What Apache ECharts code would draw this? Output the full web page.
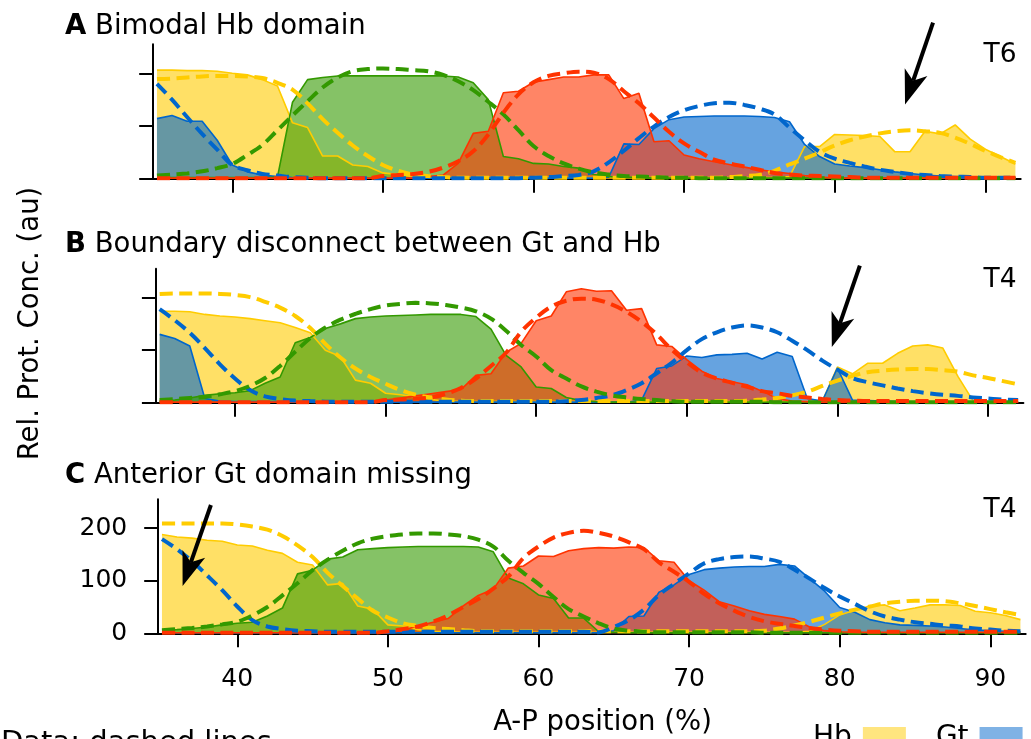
<!DOCTYPE html>
<html>
<head>
<meta charset="utf-8">
<script src="https://cdn.jsdelivr.net/npm/echarts@6/dist/echarts.min.js"></script>
<style>
  html, body { margin: 0; padding: 0; background: #ffffff; }
  #chart { width: 1031px; height: 739px; }
</style>
</head>
<body>
<div id="chart"></div>
<script>
// A-P positions (% egg length) at which concentrations are sampled
const positions = [35,36,37,38,39,40,41,42,43,44,45,46,47,48,49,50,51,52,53,54,55,56,57,58,59,60,61,62,63,64,
  65,66,67,68,69,70,71,72,73,74,75,76,77,78,79,80,81,82,83,84,85,86,87,88,89,90,91,92];

// Panel A (T6): filled domains
const hbDomainA = [206,206,205,205,204,200,197,188,176,106, 97,43,43,26,23,11,8,4,2,2, 2,2,2,2,2,2,2,2,2,2, 2,2,2,2,2,2,2,2,2,2, 2,2,4,61,61,84,83,82,80,51, 51,90,85,102,75,56,42,28];
const gtDomainA = [114,120,109,109,73,26,13,7,4,2, 1,1,1,1,1,1,1,1,1,1, 1,1,1,1,1,1,1,1,1,1, 3,66,65,95,112,117,118,119,119,119, 118,116,108,65,42,28,24,21,17,13, 10,7,5,4,3,2,2,1];
const krDomainA = [2,2,2,2,2,2,2,2,3,145, 188,192,195,195,195,195,195,195,195,195, 193,182,150,42,38,29,28,23,20,8, 4,3,2,1,1,1,1,1,1,1, 1,1,1,1,1,1,1,1,1,1, 1,1,1,1,1,1,1,1];
const kniDomainA = [1,1,1,1,1,1,1,1,1,1, 1,1,1,1,1,1,1,1,4,7, 29,86,90,163,166,183,188,193,193,197, 197,152,162,70,72,45,38,32,27,22, 17,13,10,6,3,1,1,1,1,1, 1,1,1,1,1,1,1,1];
// Panel A (T6): data profiles
const hbDataA = [189,190,192,194,195,195,194,191,182,169, 143,113,87,63,43,26,15,8,5,3, 2,2,2,2,2,2,2,2,2,2, 2,2,2,2,2,2,2,2,3,5, 7,15,27,38,50,63,73,80,86,90, 92,90,87,78,66,53,41,30];
const gtDataA = [180,150,117,85,55,26,16,9,6,3, 2,1,1,1,1,1,1,1,1,1, 1,1,1,1,1,2,3,5,7,14, 31,53,77,99,117,130,138,143,144,140, 133,122,97,73,51,38,30,23,17,13, 9,7,5,4,3,2,2,2];
const krDataA = [6,8,10,14,20,28,45,64,92,120, 147,173,192,204,208,209,208,206,204,197, 185,168,146,122,92,62,43,29,19,12, 8,5,4,3,2,2,1,1,1,1, 1,1,1,1,1,1,1,1,1,1, 1,1,1,1,1,1,1,1];
const kniDataA = [1,1,1,1,1,1,1,1,1,1, 1,1,1,1,1,5,7,9,13,21, 33,52,84,125,160,183,195,200,203,201, 189,166,143,116,89,67,51,36,29,23, 17,11,8,6,5,4,3,2,2,2, 2,2,2,2,2,2,2,2];

// Panel B (T4): filled domains
const hbDomainB = [174,174,173,168,165,163,160,156,152,143, 133,100,88,43,37,18,15,11,6,3, 2,2,2,2,2,2,2,2,2,2, 2,2,2,2,2,2,2,2,2,2, 2,2,2,2,3,68,55,75,75,94, 108,110,104,50,4,2,1,1];
const gtDomainB = [130,122,108,8,3,2,2,2,2,2, 2,1,1,1,1,1,1,1,1,1, 1,1,1,1,1,1,1,1,1,1, 1,1,5,65,70,89,86,91,92,94, 83,96,88,8,3,66,5,4,3,2, 1,1,1,1,1,1,1,1];
const krDomainB = [4,5,9,14,17,19,23,37,49,114, 124,141,150,160,163,165,166,167,168,168, 168,164,140,90,68,30,27,10,4,2, 1,1,1,1,1,1,1,1,1,1, 1,1,1,1,1,1,1,1,1,1, 1,1,1,1,1,1,1,1];
const kniDomainB = [1,1,1,1,1,1,1,1,1,1, 1,1,1,1,1,5,9,13,17,21, 25,52,55,96,113,156,165,211,217,212, 213,176,179,110,107,82,60,46,40,34, 22,8,3,2,1,1,1,1,1,1, 1,1,1,1,1,1,1,1];
// Panel B (T4): data profiles
const hbDataB = [207,208,208,208,207,205,201,192,181,165, 142,112,86,65,49,36,24,15,10,6, 4,3,3,3,3,3,3,3,3,3, 3,3,3,3,3,3,3,3,3,4, 6,9,14,21,32,42,51,58,61,63, 64,64,62,59,52,47,41,35];
const gtDataB = [178,157,133,104,73,46,24,12,7,4, 3,2,2,2,2,2,2,2,2,2, 2,2,2,2,2,2,2,3,5,9, 14,24,37,56,76,100,121,134,143,147, 143,134,118,100,80,63,47,39,33,27, 22,18,15,13,10,8,6,5];
const krDataB = [5,7,9,11,16,22,32,47,70,97, 123,143,158,169,178,185,188,190,189,186, 181,174,160,137,110,88,62,46,31,21, 14,10,7,5,3,2,2,2,2,2, 2,1,1,1,1,1,1,1,1,1, 1,1,1,1,1,1,1,1];
const kniDataB = [1,1,1,1,1,1,1,1,1,1, 1,1,1,1,1,5,6,8,10,17, 28,46,70,95,135,162,183,194,198,196, 187,173,154,130,101,77,57,46,38,30, 22,18,13,10,7,5,4,3,3,3, 3,3,3,3,3,3,3,3];

// Panel C (T4): filled domains
const hbDomainC = [188,183,181,177,175,168,166,158,152,135, 130,92,95,52,46,16,14,7,4,3, 2,2,2,2,2,2,2,2,2,2, 2,2,2,2,2,2,2,2,2,2, 2,2,2,4,17,35,44,52,54,43, 48,54,54,53,42,39,34,26];
const gtDomainC = [1,1,1,1,1,1,1,1,1,1, 1,1,1,1,1,1,1,1,1,1, 1,1,1,1,1,1,1,1,1,1, 5,32,33,78,92,112,121,124,126,127, 127,131,128,104,80,49,40,26,20,16, 15,14,12,9,6,5,4,3];
const krDomainC = [6,7,9,12,16,19,21,33,48,113, 120,141,145,159,161,163,164,165,165,165, 165,164,155,105,94,73,66,29,29,3, 2,1,1,1,1,1,1,1,1,1, 1,1,1,1,1,1,1,1,1,1, 1,1,1,1,1,1,1,1];
const kniDomainC = [1,1,1,1,1,1,1,1,1,1, 1,1,1,1,1,1,6,14,21,28, 52,72,84,124,128,147,146,157,161,163, 162,164,163,138,135,100,82,60,52,43, 36,32,27,12,5,3,2,2,2,2, 2,2,2,2,2,2,2,2];
// Panel C (T4): data profiles
const hbDataC = [209,209,209,209,209,207,203,197,185,167, 145,115,90,66,43,30,19,14,10,8, 6,4,4,4,4,4,4,4,4,4, 4,4,4,4,4,4,4,4,4,4, 5,9,15,22,30,38,45,51,57,60, 62,62,61,57,52,46,40,35];
const gtDataC = [179,160,137,110,82,51,25,13,8,5, 4,3,3,3,3,3,3,3,3,3, 3,3,3,3,3,3,3,3,3,2, 12,25,45,73,94,114,133,141,145,146, 142,136,121,104,86,70,56,42,32,26, 21,18,15,13,9,7,5,4];
const krDataC = [6,8,10,13,17,22,34,50,72,95, 120,140,157,171,180,185,188,190,190,188, 185,178,165,138,115,94,69,46,32,19, 9,5,3,2,2,2,2,2,2,2, 1,1,1,1,1,1,1,1,1,1, 1,1,1,1,1,1,1,1];
const kniDataC = [1,1,1,1,1,1,1,1,1,1, 1,1,1,1,1,4,8,13,22,34, 50,65,85,108,143,165,182,191,195,191, 184,173,160,135,117,98,75,57,43,31, 23,18,14,10,7,5,4,3,3,3, 3,3,3,3,3,3,3,3];

// Annotation arrows: [fromX, fromY, toX, toY] in data units
const arrowA = [86.53, 296, 84.67, 141];
const arrowB = [81.49, 261, 79.63, 106];
const arrowC = [38.25, 244, 36.37, 90];

const geneNames = ['Hb', 'Gt', 'Kr', 'Kni'];
const panelTitles = [['A', 'Bimodal Hb domain'], ['B', 'Boundary disconnect between Gt and Hb'], ['C', 'Anterior Gt domain missing']];
const stageLabels = ['T6', 'T4', 'T4'];
const xTicks = [40, 50, 60, 70, 80, 90];
const yTicks = [0, 100, 200];

const FONT = 'DejaVu Sans';
const geneColors = ['#ffcc00', '#0066cc', '#339900', '#ff3300'];
const swatchColors = ['rgba(255,204,0,0.5)', 'rgba(0,102,204,0.5)', 'rgba(51,153,0,0.5)', 'rgba(255,51,0,0.5)'];

const panels = [
  { fills: [hbDomainA, gtDomainA, krDomainA, kniDomainA], data: [hbDataA, gtDataA, krDataA, kniDataA], arrow: arrowA },
  { fills: [hbDomainB, gtDomainB, krDomainB, kniDomainB], data: [hbDataB, gtDataB, krDataB, kniDataB], arrow: arrowB },
  { fills: [hbDomainC, gtDomainC, krDomainC, kniDomainC], data: [hbDataC, gtDataC, krDataC, kniDataC], arrow: arrowC }
];

// plot boxes of the three stacked panels
const boxes = [
  { left: 153.2, top: 44.3, width: 867.5, height: 134.4 },
  { left: 155.9, top: 268.7, width: 867.5, height: 134.0 },
  { left: 158.2, top: 499.2, width: 867.5, height: 134.1 }
];
const titleY = [26.5, 244.5, 475.5];
const stageY = [55.5, 280, 510];

const pairs = vals => positions.map((x, i) => [x, vals[i]]);

function drawArrow(params, api) {
  const a = api.coord([api.value(0), api.value(1)]);
  const b = api.coord([api.value(2), api.value(3)]);
  const dx = b[0] - a[0], dy = b[1] - a[1];
  const len = Math.sqrt(dx * dx + dy * dy);
  const ux = dx / len, uy = dy / len, px = -uy, py = ux;
  const L = 34, W = 12, N = 25;
  const base = [b[0] - ux * N, b[1] - uy * N];
  return {
    type: 'group',
    children: [
      { type: 'line', shape: { x1: a[0], y1: a[1], x2: base[0], y2: base[1] }, style: { stroke: '#000', lineWidth: 4 } },
      { type: 'polygon', shape: { points: [
          [b[0], b[1]],
          [b[0] - ux * L + px * W, b[1] - uy * L + py * W],
          base,
          [b[0] - ux * L - px * W, b[1] - uy * L - py * W]
        ] }, style: { fill: '#000' } }
    ]
  };
}

const grid = [], xAxis = [], yAxis = [], series = [];
const axisLineStyle = { color: '#000', width: 2 };

panels.forEach((p, i) => {
  grid.push(Object.assign({ outerBoundsMode: 'none', containLabel: false }, boxes[i]));
  const showLabels = i === 2;
  xAxis.push({
    type: 'value', gridIndex: i, min: 34.75, max: 92.35,
    axisLine: { show: true, onZero: false, lineStyle: axisLineStyle },
    axisTick: { show: true, length: 14, lineStyle: axisLineStyle, customValues: xTicks },
    axisLabel: { show: showLabels, customValues: xTicks, margin: 34, color: '#000', fontSize: 25, fontFamily: FONT },
    splitLine: { show: false }
  });
  yAxis.push({
    type: 'value', gridIndex: i, min: 0, max: 255,
    axisLine: { show: true, onZero: false, lineStyle: axisLineStyle },
    axisTick: { show: true, length: 14, lineStyle: axisLineStyle, customValues: yTicks },
    axisLabel: { show: showLabels, customValues: yTicks, margin: 31, color: '#000', fontSize: 25, fontFamily: FONT },
    splitLine: { show: false }
  });
  // filled concentration domains
  geneNames.forEach((g, k) => {
    series.push({
      type: 'line', name: g, xAxisIndex: i, yAxisIndex: i,
      data: pairs(p.fills[k]), symbol: 'none', showSymbol: false, smooth: false,
      lineStyle: { color: geneColors[k], width: 1.6 },
      itemStyle: { color: geneColors[k] },
      areaStyle: { color: geneColors[k], opacity: 0.6 },
      z: 2, silent: true
    });
  });
  // dashed data profiles
  geneNames.forEach((g, k) => {
    series.push({
      type: 'line', name: g + ' data', xAxisIndex: i, yAxisIndex: i,
      data: pairs(p.data[k]), symbol: 'none', showSymbol: false, smooth: 0.35,
      lineStyle: { color: geneColors[k], width: 4, type: [13, 6.5] },
      itemStyle: { color: geneColors[k] },
      z: 3, silent: true
    });
  });
  series.push({
    type: 'custom', xAxisIndex: i, yAxisIndex: i, clip: false,
    data: [p.arrow], renderItem: drawArrow, z: 5, silent: true
  });
});

const graphic = [];
panelTitles.forEach((t, i) => {
  graphic.push({
    type: 'text', x: 65, y: titleY[i], silent: true,
    style: {
      text: '{b|' + t[0] + '} ' + t[1],
      rich: { b: { fontWeight: 'bold', fontSize: 27.5, fontFamily: FONT, fill: '#000' } },
      fontSize: 27.5, fontFamily: FONT, fill: '#000', align: 'left', verticalAlign: 'middle'
    }
  });
  graphic.push({
    type: 'text', x: 1016.5, y: stageY[i], silent: true,
    style: { text: stageLabels[i], fontSize: 26.5, fontFamily: FONT, fill: '#000', align: 'right', verticalAlign: 'middle' }
  });
});
graphic.push({
  type: 'text', x: 31, y: 323.5, rotation: Math.PI / 2, silent: true,
  style: { text: 'Rel. Prot. Conc. (au)', fontSize: 27.5, fontFamily: FONT, fill: '#000', align: 'center', verticalAlign: 'middle' }
});
graphic.push({
  type: 'text', x: 602.5, y: 723, silent: true,
  style: { text: 'A-P position (%)', fontSize: 27.5, fontFamily: FONT, fill: '#000', align: 'center', verticalAlign: 'middle' }
});
graphic.push({
  type: 'text', x: 1, y: 743, silent: true,
  style: { text: 'Data: dashed lines', fontSize: 29, fontFamily: FONT, fill: '#000', align: 'left', verticalAlign: 'middle' }
});

const chart = echarts.init(document.getElementById('chart'), null, { renderer: 'canvas' });
chart.setOption({
  animation: false,
  backgroundColor: '#ffffff',
  textStyle: { fontFamily: FONT },
  grid, xAxis, yAxis, series, graphic,
  legend: {
    left: 808, top: 724, padding: 0,
    orient: 'horizontal', align: 'right', icon: 'rect',
    itemWidth: 43, itemHeight: 22, itemGap: 30, selectedMode: false,
    itemStyle: { borderWidth: 0 },
    textStyle: { fontSize: 28, fontFamily: FONT, color: '#000', padding: [0, 6, 0, 0] },
    data: geneNames.map((g, k) => ({ name: g, itemStyle: { color: swatchColors[k], borderWidth: 0 } }))
  }
});
</script>
</body>
</html>
